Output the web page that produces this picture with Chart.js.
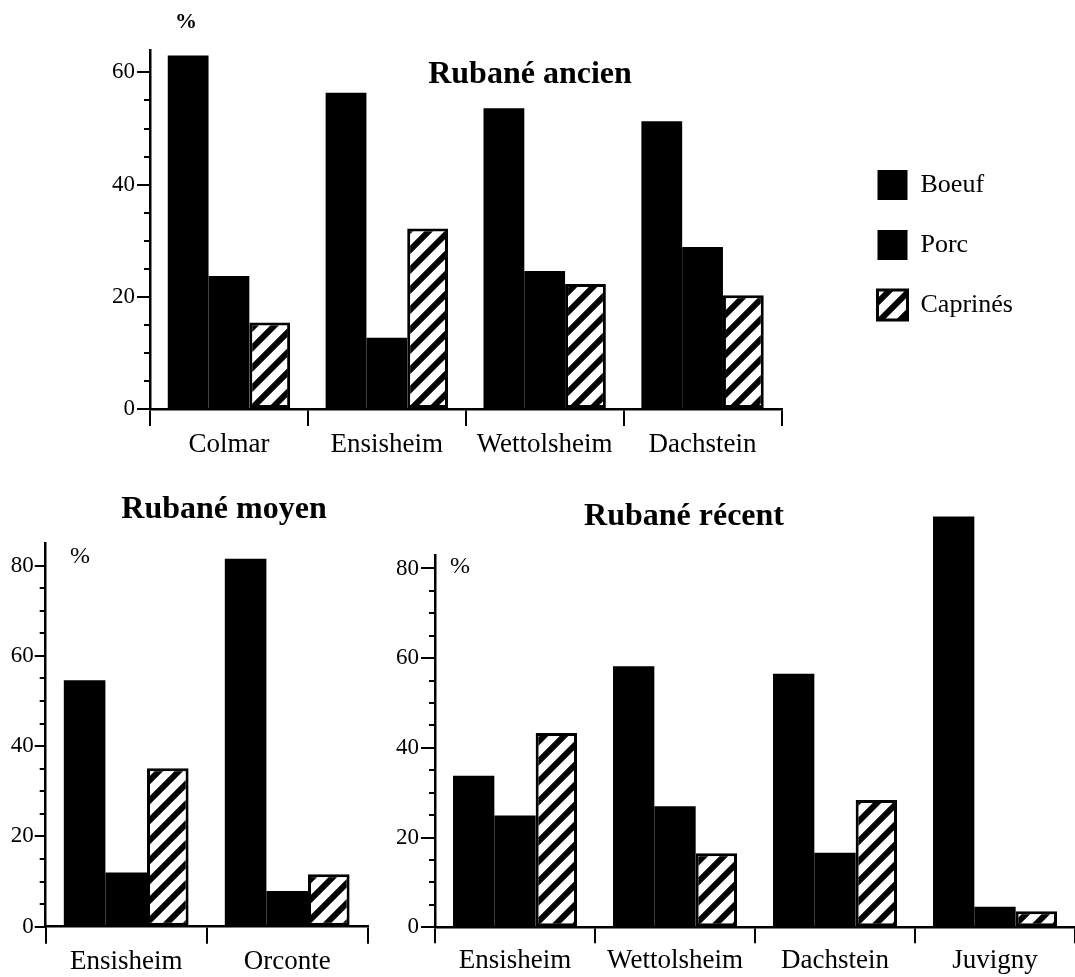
<!DOCTYPE html>
<html><head><meta charset="utf-8">
<script src="https://cdn.jsdelivr.net/npm/chart.js@4.4.1/dist/chart.umd.min.js"></script>
<style>
html,body{margin:0;padding:0;background:#fff;}
body{width:1075px;height:977px;position:relative;overflow:hidden;}
canvas{position:absolute;}
</style></head><body>
<canvas id="c1" width="1075" height="470" style="left:0;top:0"></canvas>
<canvas id="c2" width="390" height="507" style="left:0;top:470px"></canvas>
<canvas id="c3" width="685" height="507" style="left:390px;top:470px"></canvas>
<script>
// ---- data ----
const seriesNames = ['Boeuf', 'Porc', 'Caprinés'];

const ancienTitle = 'Rubané ancien';
const ancienSites = ['Colmar', 'Ensisheim', 'Wettolsheim', 'Dachstein'];
const ancienBoeuf = [63.0, 56.4, 53.6, 51.3];
const ancienPorc = [23.7, 12.7, 24.6, 28.9];
const ancienCaprines = [15.4, 32.2, 22.3, 20.3];

const moyenTitle = 'Rubané moyen';
const moyenSites = ['Ensisheim', 'Orconte'];
const moyenBoeuf = [54.6, 81.5];
const moyenPorc = [12.0, 7.9];
const moyenCaprines = [35.1, 11.6];

const recentTitle = 'Rubané récent';
const recentSites = ['Ensisheim', 'Wettolsheim', 'Dachstein', 'Juvigny'];
const recentBoeuf = [33.8, 58.2, 56.5, 91.6];
const recentPorc = [24.9, 27.0, 16.6, 4.6];
const recentCaprines = [43.3, 16.5, 28.4, 3.6];

const yTickValues = [0, 20, 40, 60, 80];   // labelled ticks
const minorStep = 5;                         // unlabelled minor ticks
const unitLabel = '%';

// ---- helpers ----
const SERIF = "'Liberation Serif', 'DejaVu Serif', serif";

function hatchPattern() {
  const s = 20, t = document.createElement('canvas');
  t.width = s; t.height = s;
  const g = t.getContext('2d');
  g.fillStyle = '#fff'; g.fillRect(0, 0, s, s);
  g.strokeStyle = '#000'; g.lineWidth = 6;
  for (const c of [0, s, 2 * s]) {
    g.beginPath();
    g.moveTo(c + 4, -4);
    g.lineTo(c - s - 4, s + 4);
    g.stroke();
  }
  return g.createPattern(t, 'repeat');
}
const HATCH = hatchPattern();

const minorTicks = {
  id: 'minorTicks',
  afterDraw(chart, args, opts) {
    const y = chart.scales.y, ctx = chart.ctx;
    ctx.save();
    ctx.strokeStyle = '#000'; ctx.lineWidth = 2;
    for (let v = minorStep; v < y.max; v += minorStep) {
      if (yTickValues.includes(v)) continue;
      const py = Math.round(y.getPixelForValue(v));
      ctx.beginPath();
      ctx.moveTo(y.right - opts.len, py);
      ctx.lineTo(y.right, py);
      ctx.stroke();
    }
    ctx.restore();
  }
};
const texts = {
  id: 'texts',
  afterDraw(chart, args, opts) {
    const ctx = chart.ctx;
    ctx.save();
    ctx.fillStyle = '#000';
    ctx.textBaseline = 'alphabetic';
    for (const t of (opts.items || [])) {
      ctx.font = t.font;
      ctx.textAlign = t.align || 'left';
      ctx.fillText(t.text, t.x, t.y);
    }
    ctx.restore();
  }
};
Chart.register(minorTicks, texts);

function makeChart(id, cats, boeuf, porc, capr, cfg) {
  const scales = {
    x: {
      type: 'category', offset: true,
      grid: { display: true, offset: true, drawOnChartArea: false, drawTicks: true,
              tickLength: cfg.xTick, color: '#000', lineWidth: 2 },
      border: { display: true, color: '#000', width: 2.5 },
      ticks: { color: '#000', font: { family: SERIF, size: 27 }, padding: cfg.xPad,
               maxRotation: 0, autoSkip: false },
      afterFit(s) { s.height = cfg.xH; }
    },
    y: {
      type: 'linear', min: 0, max: cfg.yMax,
      grid: { display: true, drawOnChartArea: false, drawTicks: true,
              tickLength: cfg.yTick, color: '#000', lineWidth: 2 },
      border: { display: true, color: '#000', width: 2.5 },
      ticks: { color: '#000', font: { family: SERIF, size: 23 }, padding: cfg.yPad },
      afterBuildTicks(s) {
        s.ticks = yTickValues.filter(v => v <= s.max).map(v => ({ value: v }));
      },
      afterFit(s) { s.width = cfg.yW; }
    }
  };
  if (cfg.spacer) {
    scales.spacer = {
      type: 'linear', position: 'right', display: true,
      grid: { display: false }, border: { display: false }, ticks: { display: false },
      afterFit(s) { s.width = cfg.spacer; }
    };
  }
  return new Chart(document.getElementById(id), {
    type: 'bar',
    data: {
      labels: cats,
      datasets: [
        { label: seriesNames[0], data: boeuf, backgroundColor: '#000', borderWidth: 0, clip: false },
        { label: seriesNames[1], data: porc, backgroundColor: '#000', borderWidth: 0, clip: false },
        { label: seriesNames[2], data: capr, backgroundColor: HATCH, borderColor: '#000',
          borderWidth: 3, borderSkipped: false, clip: false }
      ]
    },
    options: {
      responsive: false, animation: false, devicePixelRatio: 1,
      layout: { padding: cfg.padding },
      datasets: { bar: { categoryPercentage: 0.775, barPercentage: 1 } },
      plugins: {
        tooltip: { enabled: false },
        title: { display: false },
        legend: cfg.legend || { display: false },
        minorTicks: { len: 6 },
        texts: { items: cfg.texts }
      },
      scales
    }
  });
}

// top chart: Rubané ancien
makeChart('c1', ancienSites, ancienBoeuf, ancienPorc, ancienCaprines, {
  yMax: 64, xTick: 17, xPad: 3, xH: 61, yTick: 13, yPad: 2, yW: 150,
  spacer: 66,
  padding: { top: 50, left: 0, right: 58, bottom: 0 },
  legend: {
    display: true, position: 'right', align: 'start', fullSize: false,
    title: { display: true, text: '', padding: { top: 75.6, bottom: 0 }, font: { size: 12 } },
    labels: { boxWidth: 30, boxHeight: 30, padding: 30, color: '#000',
              font: { family: SERIF, size: 26 } }
  },
  texts: [
    { text: ancienTitle, x: 530, y: 83, align: 'center', font: "bold 32px " + SERIF },
    { text: unitLabel, x: 175, y: 28, font: "bold 22px " + SERIF }
  ]
});

// bottom left: Rubané moyen
makeChart('c2', moyenSites, moyenBoeuf, moyenPorc, moyenCaprines, {
  yMax: 85, xTick: 17, xPad: 2, xH: 50.3, yTick: 11, yPad: 1, yW: 45.7,
  padding: { top: 73, left: 0, right: 22.3, bottom: 0 },
  texts: [
    { text: moyenTitle, x: 224, y: 48, align: 'center', font: "bold 32px " + SERIF },
    { text: unitLabel, x: 70, y: 93, font: "24px " + SERIF }
  ]
});

// bottom right: Rubané récent
makeChart('c3', recentSites, recentBoeuf, recentPorc, recentCaprines, {
  yMax: 83, xTick: 16, xPad: 1, xH: 49.7, yTick: 14, yPad: 2, yW: 45,
  padding: { top: 85, left: 0, right: 0, bottom: 0 },
  texts: [
    { text: recentTitle, x: 294, y: 55, align: 'center', font: "bold 32px " + SERIF },
    { text: unitLabel, x: 60, y: 103, font: "24px " + SERIF }
  ]
});
</script>
</body></html>
